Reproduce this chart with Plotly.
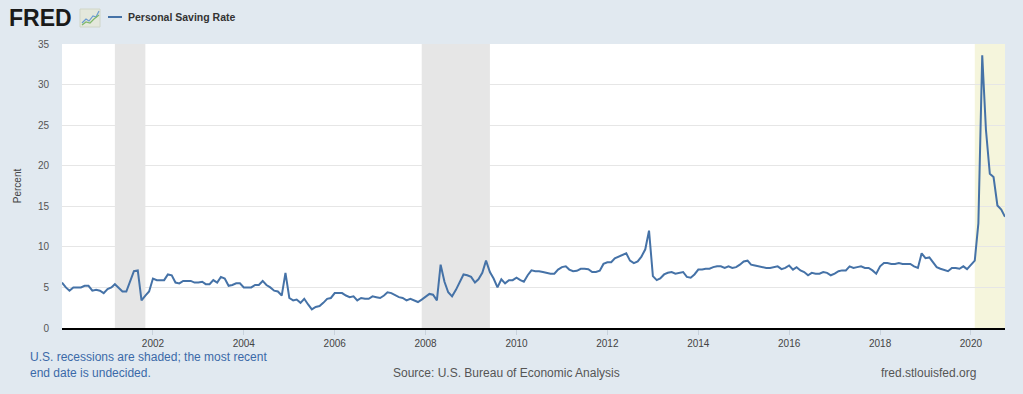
import pandas as pd
import plotly.graph_objects as go

# ---- data (monthly, Jan 2000 - Oct 2020) ----
start_month = "2000-01-01"
saving_rate = [
    # 2000
    5.6, 5.0, 4.6, 5.0, 5.0, 5.0, 5.2, 5.2, 4.6, 4.7, 4.6, 4.3,
    # 2001
    4.8, 5.0, 5.4, 5.0, 4.5, 4.5, 5.8, 7.0, 7.1, 3.4, 4.0, 4.5,
    # 2002
    6.1, 5.9, 5.9, 5.9, 6.6, 6.5, 5.6, 5.5, 5.8, 5.8, 5.8, 5.6,
    # 2003
    5.6, 5.7, 5.4, 5.4, 5.9, 5.6, 6.3, 6.1, 5.2, 5.3, 5.5, 5.5,
    # 2004
    5.0, 5.0, 5.0, 5.3, 5.3, 5.8, 5.3, 5.0, 4.6, 4.5, 4.0, 6.8,
    # 2005
    3.7, 3.4, 3.5, 3.1, 3.6, 2.9, 2.3, 2.6, 2.7, 3.1, 3.6, 3.7,
    # 2006
    4.3, 4.3, 4.3, 4.0, 3.8, 3.9, 3.4, 3.7, 3.6, 3.6, 3.9, 3.8,
    # 2007
    3.7, 4.0, 4.4, 4.3, 4.0, 3.8, 3.7, 3.4, 3.6, 3.4, 3.2, 3.5,
    # 2008
    3.8, 4.2, 4.1, 3.4, 7.8, 5.7, 4.4, 3.9, 4.7, 5.6, 6.6, 6.5,
    # 2009
    6.3, 5.6, 6.0, 6.8, 8.3, 6.9, 6.1, 5.0, 6.0, 5.5, 5.9, 5.9,
    # 2010
    6.2, 5.9, 5.7, 6.5, 7.1, 7.0, 7.0, 6.9, 6.8, 6.7, 6.7, 7.2,
    # 2011
    7.5, 7.6, 7.2, 7.0, 7.05, 7.3, 7.3, 7.25, 6.9, 6.9, 7.05, 7.9,
    # 2012
    8.1, 8.1, 8.6, 8.8, 8.9, 9.2, 8.3, 8.0, 8.2, 8.8, 9.7, 12.0,
    # 2013
    6.4, 5.9, 6.1, 6.6, 6.8, 6.9, 6.7, 6.8, 6.9, 6.3, 6.2, 6.6,
    # 2014
    7.2, 7.2, 7.3, 7.3, 7.5, 7.6, 7.6, 7.4, 7.6, 7.4, 7.5, 7.8,
    # 2015
    8.2, 8.3, 7.8, 7.7, 7.6, 7.5, 7.4, 7.4, 7.5, 7.6, 7.25, 7.4,
    # 2016
    7.7, 7.2, 7.5, 7.1, 6.9, 6.5, 6.8, 6.7, 6.7, 6.9, 6.8, 6.5,
    # 2017
    6.7, 7.0, 7.1, 7.1, 7.6, 7.4, 7.5, 7.6, 7.4, 7.4, 7.1, 6.7,
    # 2018
    7.6, 8.0, 8.0, 7.9, 7.9, 8.0, 7.9, 7.9, 7.9, 7.6, 7.4, 9.2,
    # 2019
    8.6, 8.7, 8.1, 7.5, 7.3, 7.1, 7.0, 7.4, 7.4, 7.3, 7.6, 7.25,
    # 2020
    7.8, 8.3, 12.9, 33.6, 24.4, 19.0, 18.6, 15.1, 14.6, 13.7,
]
dates = pd.date_range(start_month, periods=len(saving_rate), freq="MS")

recession_starts = ["2001-03-01", "2007-12-01", "2020-02-01"]
recession_ends = ["2001-11-01", "2009-06-01", "2020-10-01"]
recession_colors = ["#e6e6e6", "#e6e6e6", "#f5f5dc"]

x_ticks = [f"{y}-01-01" for y in range(2002, 2021, 2)]
x_tick_labels = [str(y) for y in range(2002, 2021, 2)]
y_ticks = [0, 5, 10, 15, 20, 25, 30, 35]

series_name = "Personal Saving Rate"
y_title = "Percent"
note_text = "U.S. recessions are shaded; the most recent<br>end date is undecided."
source_text = "Source: U.S. Bureau of Economic Analysis"
site_text = "fred.stlouisfed.org"

# ---- layout geometry (pixels) ----
W, H = 1023, 394
L, R, T, B = 62, 18, 44, 66
PW, PH = W - L - R, H - T - B


def px(xp):
    return (xp - L) / PW


def py(yp):
    return (H - B - yp) / PH


FONT = "Liberation Sans, Arial, sans-serif"
LINE_COLOR = "#4572a7"

fig = go.Figure()
fig.add_trace(go.Scatter(
    x=dates, y=saving_rate, mode="lines", name=series_name,
    line=dict(color=LINE_COLOR, width=2), showlegend=False,
    hovertemplate="%{x|%b %Y}: %{y}<extra></extra>",
))

shapes = []
for s, e, c in zip(recession_starts, recession_ends, recession_colors):
    shapes.append(dict(type="rect", xref="x", yref="paper", x0=s, x1=e,
                       y0=0, y1=1, fillcolor=c, line=dict(width=0),
                       layer="between"))

# legend line sample
shapes.append(dict(type="line", xref="paper", yref="paper",
                   x0=px(108), x1=px(122), y0=py(17), y1=py(17),
                   line=dict(color=LINE_COLOR, width=2)))
# small logo icon
shapes.append(dict(type="rect", xref="paper", yref="paper",
                   x0=px(80), x1=px(100), y0=py(27), y1=py(9),
                   fillcolor="#e4e8dc", line=dict(color="#d0d6c8", width=1)))


def path(points):
    return "M " + " L ".join(f"{px(a)},{py(b)}" for a, b in points)


shapes.append(dict(type="path", xref="paper", yref="paper",
                   path=path([(82, 23), (86, 19), (89, 21), (93, 16), (96, 17), (99, 11)]),
                   line=dict(color="#6a9bd1", width=1.2)))
shapes.append(dict(type="path", xref="paper", yref="paper",
                   path=path([(82, 25), (86, 22), (90, 23), (94, 19), (99, 15)]),
                   line=dict(color="#7fb86a", width=1.2)))

annotations = [
    dict(text="<b>FRED</b>", xref="paper", yref="paper", x=px(7), y=py(18.5),
         xanchor="left", yanchor="middle", showarrow=False,
         font=dict(family=FONT, size=23, color="#1a1a1a")),
    dict(text="<b>" + series_name + "</b>", xref="paper", yref="paper",
         x=px(126), y=py(17), xanchor="left", yanchor="middle", showarrow=False,
         font=dict(family=FONT, size=10.5, color="#333333")),
    dict(text=note_text, xref="paper", yref="paper", x=px(28), y=py(365),
         xanchor="left", yanchor="middle", align="left", showarrow=False,
         font=dict(family=FONT, size=12, color="#3b6aa8")),
    dict(text=source_text, xref="paper", yref="paper", x=px(506), y=py(373),
         xanchor="center", yanchor="middle", showarrow=False,
         font=dict(family=FONT, size=12, color="#555555")),
    dict(text=site_text, xref="paper", yref="paper", x=px(978), y=py(373),
         xanchor="right", yanchor="middle", showarrow=False,
         font=dict(family=FONT, size=12, color="#555555")),
]

fig.update_layout(
    width=W, height=H,
    margin=dict(l=L, r=R, t=T, b=B, pad=0),
    paper_bgcolor="#e1e9f0", plot_bgcolor="#ffffff",
    font=dict(family=FONT, size=10, color="#555555"),
    shapes=shapes, annotations=annotations,
    showlegend=False,
)
fig.update_xaxes(
    type="date", range=[dates[0], dates[-1]],
    tickvals=x_ticks, ticktext=x_tick_labels,
    showgrid=False, zeroline=False,
    showline=True, linecolor="#000000", linewidth=2,
    ticks="outside", ticklen=5, tickcolor="#c8d2dc", tickwidth=1,
    tickfont=dict(family=FONT, size=10, color="#444444"),
)
fig.update_yaxes(
    range=[0, 35], tickvals=y_ticks,
    showgrid=True, gridcolor="#e6e6e6", gridwidth=1,
    zeroline=False, showline=False, ticks="",
    ticklabelstandoff=12,
    tickfont=dict(family=FONT, size=10, color="#555555"),
    title=dict(text=y_title, standoff=14,
               font=dict(family=FONT, size=10, color="#444444")),
)

fig.write_html(
    "out.html",
    config={"displayModeBar": False},
    post_script="document.body.style.margin='0';document.body.style.background='#e1e9f0';",
)
